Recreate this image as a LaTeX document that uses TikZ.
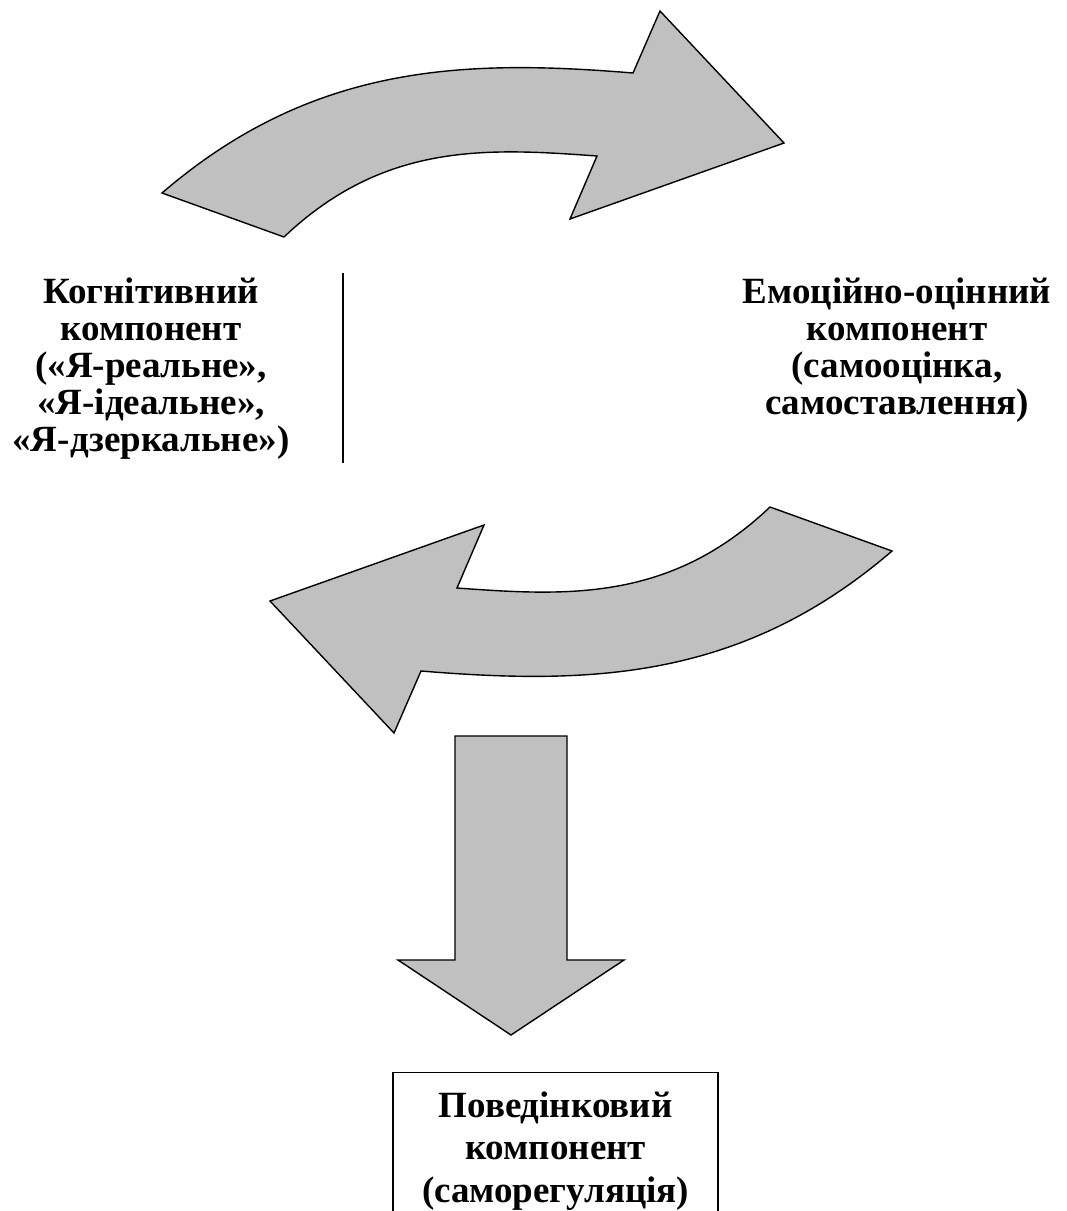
\documentclass[tikz,border=0pt]{standalone}
\usepackage{fontspec}
\setmainfont{Liberation Serif}
\definecolor{arrowgray}{RGB}{192,192,192}
\newcommand{\bentarrowpath}{(162,193) .. controls (312,64) and (463,59) .. (633,73)
  -- (660,11) -- (784,143) -- (570,219) -- (597,156)
  .. controls (487,148) and (384,142) .. (284,237) -- cycle}
\tikzset{
  bigarrow/.style={fill=arrowgray, draw=black, line width=1.4pt, line join=miter},
  comptext/.style={align=center, inner sep=0pt, font=\fontsize{37}{37}\selectfont\bfseries},
  compbox/.style={draw, line width=1.4pt, align=center, inner xsep=10pt, inner ysep=19pt,
    minimum width=325pt, font=\fontsize{37}{42.5}\selectfont\bfseries}
}
\begin{document}
\begin{tikzpicture}[x=1pt, y=-1pt]
  \useasboundingbox (0,0) rectangle (1067,1211);

  % curved arrows
  \filldraw[bigarrow] \bentarrowpath;
  \filldraw[bigarrow, rotate around={180:(527,372)}] \bentarrowpath;

  % straight arrow down
  \filldraw[bigarrow] (455,736) -- (567,736) -- (567,960) -- (624,960)
    -- (511,1035) -- (398,960) -- (455,960) -- cycle;

  \node[comptext, anchor=north] (cognitive) at (151,278)
    {Когнітивний\\компонент\\(«Я-реальне»,\\«Я-ідеальне»,\\«Я-дзеркальне»)};
  \node[comptext, anchor=north] (emotional) at (897,278)
    {Емоційно-оцінний\\компонент\\(самооцінка,\\самоставлення)};
  \node[compbox, anchor=north] (behavioral) at (555.5,1072)
    {Поведінковий\\компонент\\(саморегуляція)};

  \coordinate (divtop) at (343,273);
  \coordinate (divbot) at (343,463);
  \draw[line width=1.4pt] (divtop) -- (divbot);
\end{tikzpicture}
\end{document}
